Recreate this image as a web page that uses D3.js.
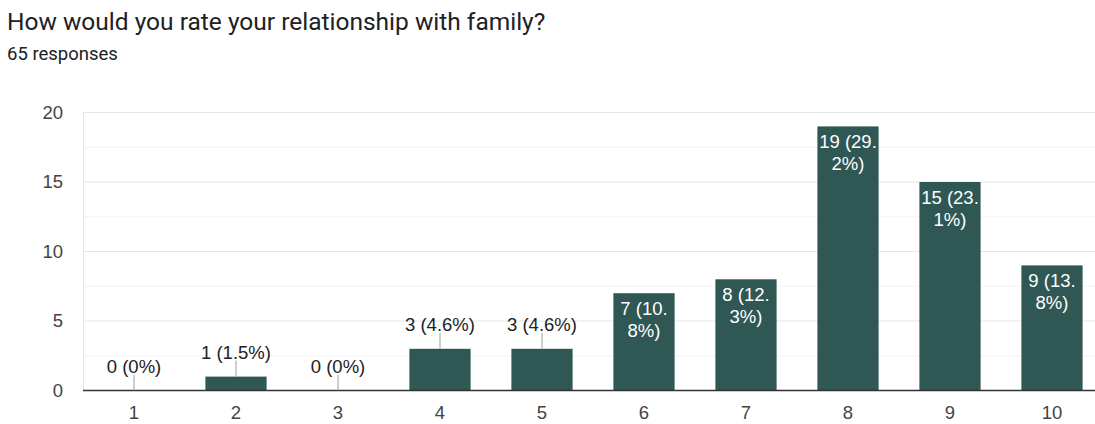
<!DOCTYPE html>
<html>
<head>
<meta charset="utf-8">
<script src="https://cdn.jsdelivr.net/npm/d3@7"></script>
<style>
  html, body { margin: 0; padding: 0; background: #fff; }
  svg { display: block; }
</style>
</head>
<body>
<svg id="chart" width="1095" height="424"></svg>
<script>
// Survey results: rating of relationship with family (1–10)
const categories = ["1", "2", "3", "4", "5", "6", "7", "8", "9", "10"];
const counts = [0, 1, 0, 3, 3, 7, 8, 19, 15, 9];
const totalResponses = 65;
const yTicks = [0, 5, 10, 15, 20];
const yGrid = [2.5, 5, 7.5, 10, 12.5, 15, 17.5, 20];

const title = "How would you rate your relationship with family?";
const subtitle = `${totalResponses} responses`;

const W = 1095, H = 424;
const margin = { left: 83, top: 112.5, bottom: 390.5 };
const svg = d3.select("#chart");
const font = "'Liberation Sans', Arial, sans-serif";
const fs = 18.5;
const barColor = "#2f5753";

svg.append("text")
  .attr("x", 7).attr("y", 30)
  .attr("font-family", "Roboto, Arial, sans-serif")
  .attr("font-size", 24.5)
  .attr("fill", "#202124")
  .text(title);

svg.append("text")
  .attr("x", 7).attr("y", 60)
  .attr("font-family", "Roboto, Arial, sans-serif")
  .attr("font-size", 18.5)
  .attr("fill", "#202124")
  .text(subtitle);

const x = d3.scaleBand()
  .domain(categories)
  .range([margin.left, margin.left + 102 * categories.length])
  .paddingInner(0.4)
  .paddingOuter(0.2);

const y = d3.scaleLinear()
  .domain([0, 20])
  .range([margin.bottom, margin.top]);

// gridlines
svg.append("g").selectAll("line")
  .data(yGrid)
  .join("line")
  .attr("x1", margin.left).attr("x2", W)
  .attr("y1", d => y(d)).attr("y2", d => y(d))
  .attr("stroke", d => d % 5 === 0 ? "#e6e6e6" : "#f3f3f3")
  .attr("stroke-width", 1);

// left border of plot area
svg.append("line")
  .attr("x1", margin.left + 0.5).attr("x2", margin.left + 0.5)
  .attr("y1", margin.top).attr("y2", margin.bottom)
  .attr("stroke", "#e6e6e6");

// y axis labels
const yAxis = d3.axisLeft(y).tickValues(yTicks).tickSize(0).tickPadding(20);
const gy = svg.append("g")
  .attr("transform", `translate(${margin.left},0)`)
  .call(yAxis);
gy.select(".domain").remove();
gy.selectAll("text")
  .attr("font-family", font)
  .attr("font-size", fs)
  .attr("fill", "#444");

// x axis labels
const xAxis = d3.axisBottom(x).tickSize(0).tickPadding(15);
const gx = svg.append("g")
  .attr("transform", `translate(0,${margin.bottom})`)
  .call(xAxis);
gx.select(".domain").remove();
gx.selectAll("text")
  .attr("font-family", font)
  .attr("font-size", fs)
  .attr("fill", "#444");

// bars
svg.append("g").selectAll("rect")
  .data(counts)
  .join("rect")
  .attr("x", (d, i) => x(categories[i]))
  .attr("y", d => y(d))
  .attr("width", x.bandwidth())
  .attr("height", d => y(0) - y(d))
  .attr("fill", barColor);

// baseline
svg.append("line")
  .attr("x1", margin.left).attr("x2", W)
  .attr("y1", y(0)).attr("y2", y(0))
  .attr("stroke", "#333").attr("stroke-width", 1.5);

// value labels
const pctFmt = v => {
  const p = Math.round(v / totalResponses * 1000) / 10;
  return `${p}%`;
};
const labelText = v => `${v} (${pctFmt(v)})`;

const measure = svg.append("text")
  .attr("font-family", font).attr("font-size", fs)
  .attr("visibility", "hidden");
const textWidth = s => { measure.text(s); return measure.node().getComputedTextLength(); };

// wrap a label to fit inside a bar: break after "(" or "." first, then by characters
function wrap(s, maxW) {
  if (textWidth(s) <= maxW) return [s];
  const lines = [];
  let rest = s;
  while (rest.length) {
    if (textWidth(rest) <= maxW) { lines.push(rest); break; }
    let cut = 1;
    while (cut < rest.length && textWidth(rest.slice(0, cut + 1)) <= maxW) cut++;
    // prefer a break just after an opening bracket or a point
    let k = cut;
    while (k > 1 && !/[(.\s]/.test(rest[k - 1])) k--;
    if (k > 1) cut = k;
    lines.push(rest.slice(0, cut).trimEnd());
    rest = rest.slice(cut).trimStart();
  }
  return lines;
}

const labels = svg.append("g");
counts.forEach((v, i) => {
  const cx = x(categories[i]) + x.bandwidth() / 2;
  const top = y(v);
  const str = labelText(v);
  if (v <= 3) {
    labels.append("line")
      .attr("x1", cx).attr("x2", cx)
      .attr("y1", top).attr("y2", top - 16)
      .attr("stroke", "#9e9e9e").attr("stroke-width", 1);
    labels.append("text")
      .attr("x", cx).attr("y", top - 18)
      .attr("text-anchor", "middle")
      .attr("font-family", font).attr("font-size", fs)
      .attr("fill", "#222")
      .text(str);
  } else {
    const lines = wrap(str, x.bandwidth() - 1);
    const t = labels.append("text")
      .attr("text-anchor", "middle")
      .attr("font-family", font).attr("font-size", fs)
      .attr("fill", "#fff");
    lines.forEach((ln, j) => {
      t.append("tspan")
        .attr("x", cx)
        .attr("y", top + 22 + j * 22)
        .text(ln);
    });
  }
});
measure.remove();
</script>
</body>
</html>
